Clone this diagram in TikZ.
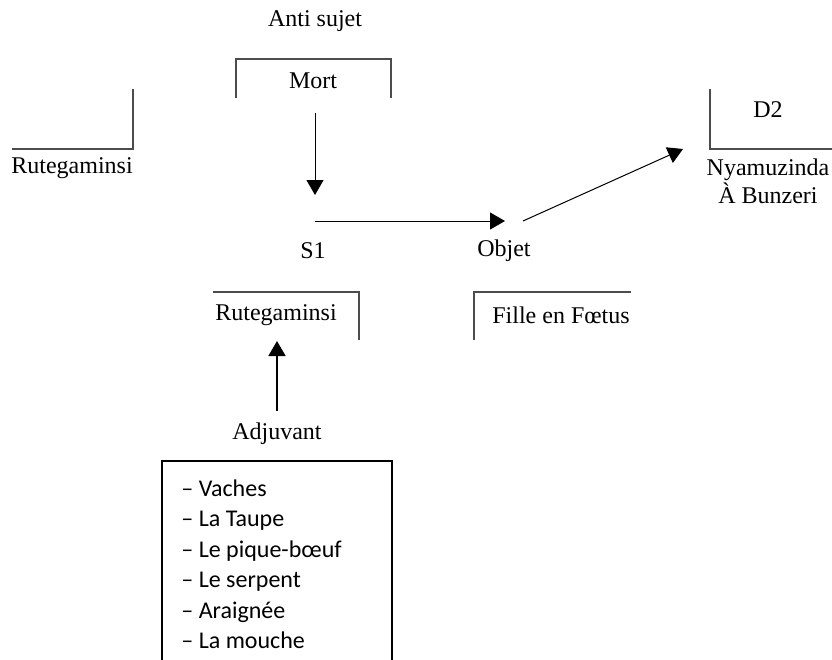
\documentclass[tikz,border=0pt]{standalone}
\usepackage{fontspec}
\setmainfont{Liberation Serif}
\newfontfamily\listfont{Carlito}
\usetikzlibrary{arrows.meta}
\begin{document}
\begin{tikzpicture}[x=0.5pt,y=-0.5pt,
  lbl/.style={inner sep=0pt,font=\fontsize{12}{13.8}\selectfont},
  item/.style={inner sep=0pt,anchor=base west,font=\listfont\fontsize{12}{14}\selectfont},
  bracket/.style={draw=black!70,line width=0.6pt},
  conn/.style={draw=black,line width=0.5pt,-{Triangle[length=7.5pt,width=8.5pt]}},
  connthick/.style={draw=black,line width=0.9pt,-{Triangle[length=7.5pt,width=8.5pt]}}]
\useasboundingbox (0,0) rectangle (832,660);
\clip (0,0) rectangle (832,660);
% labels
\node[lbl] (antisujet) at (315,21) {Anti sujet};
\node[lbl] (mort) at (313,81) {Mort};
\node[lbl] (rutA) at (72,168) {Rutegaminsi};
\node[lbl] (s1) at (313,251) {S1};
\node[lbl] (objet) at (504,251) {Objet};
\node[lbl] (d2) at (768,110) {D2};
\node[lbl,align=center] (nyam) at (768,181) {Nyamuzinda\\À Bunzeri};
\node[lbl] (rutB) at (276,315) {Rutegaminsi};
\node[lbl] (fille) at (561,315) {Fille en Fœtus};
\node[lbl] (adjuvant) at (277,434) {Adjuvant};
% brackets
\draw[bracket] (236,98) -- (236,59) -- (391,59) -- (391,98);
\draw[bracket] (133,89) -- (133,149) -- (12,149);
\draw[bracket] (710,89) -- (710,149) -- (832,149);
\draw[bracket] (213,292) -- (359,292) -- (359,340);
\draw[bracket] (631,292) -- (474,292) -- (474,340);
% connector end points
\coordinate (mortout) at (315,113);
\coordinate (s1in) at (315,195);
\coordinate (s1out) at (315,221);
\coordinate (objin) at (505,221);
\coordinate (objout) at (523,221);
\coordinate (d2in) at (683,149);
\coordinate (adjout) at (277,411);
\coordinate (rutBin) at (277,341);
% connectors
\draw[conn] (mortout) -- (s1in);
\draw[conn] (s1out) -- (objin);
\draw[conn] (objout) -- (d2in);
\draw[connthick] (adjout) -- (rutBin);
% adjuvant box
\draw[black,line width=0.6pt] (162,670) -- (162,461) -- (392,461) -- (392,670);
\node[item] (i1) at (181,496) {– Vaches};
\node[item] (i2) at (181,526) {– La Taupe};
\node[item] (i3) at (181,557) {– Le pique-bœuf};
\node[item] (i4) at (181,587) {– Le serpent};
\node[item] (i5) at (181,618) {– Araignée};
\node[item] (i6) at (181,648) {– La mouche};
\end{tikzpicture}
\end{document}
